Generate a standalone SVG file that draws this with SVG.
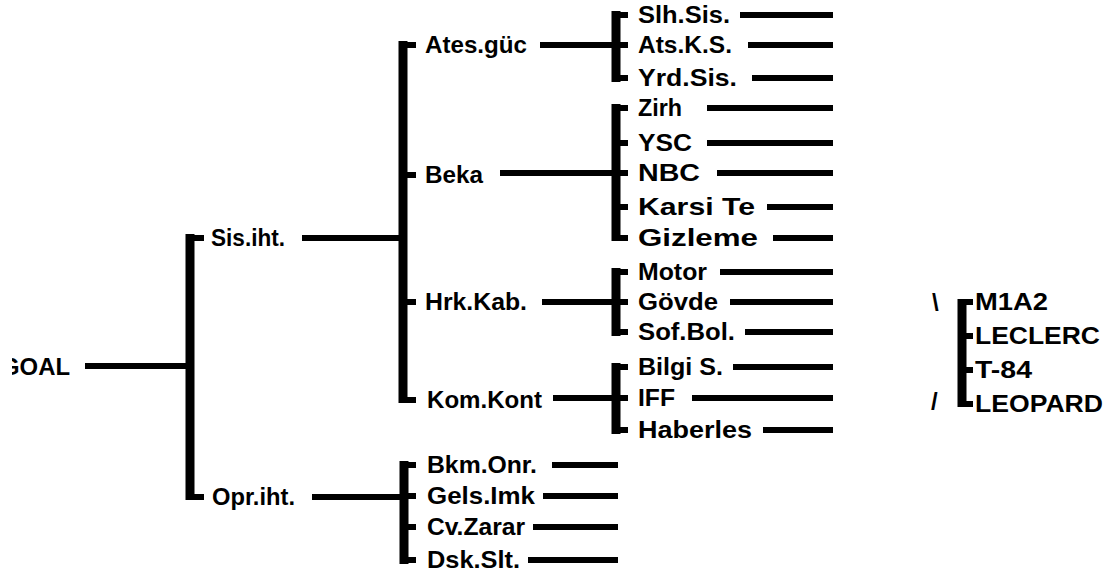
<svg xmlns="http://www.w3.org/2000/svg" width="1106" height="579" viewBox="0 0 1106 579">
  <defs>
    <style>
      .t { font-family: "Liberation Sans", Arial, sans-serif; font-weight: bold; font-size: 24px; fill: #000; }
      .ln { stroke: #000; stroke-width: 6; fill: none; }
      .bar { stroke: #000; stroke-width: 9; fill: none; }
    </style>
    <clipPath id="goalClip">
      <rect x="12" y="340" width="100" height="50"/>
    </clipPath>
  </defs>
  <rect width="1106" height="579" fill="#fff"/>

  <!-- connectors: brackets, ticks and leader lines -->
  <g id="connectors">
    <!-- root -->
    <path class="ln" d="M85 366 H190"/>
    <path class="bar" d="M190 234 V500"/>
    <path class="ln" d="M190 238 H204 M190 497 H204"/>

    <!-- Sis.iht. branch -->
    <path class="ln" d="M302 238 H403"/>
    <path class="bar" d="M403 41 V403"/>
    <path class="ln" d="M403 45 H416 M403 175 H416 M403 302 H416 M403 400 H416"/>

    <!-- Opr.iht. branch -->
    <path class="ln" d="M312 497 H404"/>
    <path class="bar" d="M404 461 V564"/>
    <path class="ln" d="M404 465 H416 M404 496 H416 M404 527 H416 M404 560 H416"/>

    <!-- Ates.güc -->
    <path class="ln" d="M540 45 H616"/>
    <path class="bar" d="M616 11 V82"/>
    <path class="ln" d="M616 15 H628 M616 45 H628 M616 78 H628"/>

    <!-- Beka -->
    <path class="ln" d="M500 173 H616"/>
    <path class="bar" d="M616 104 V241"/>
    <path class="ln" d="M616 108 H628 M616 143 H628 M616 173 H628 M616 207 H628 M616 238 H628"/>

    <!-- Hrk.Kab. -->
    <path class="ln" d="M542 302 H616"/>
    <path class="bar" d="M616 268 V336"/>
    <path class="ln" d="M616 272 H628 M616 302 H628 M616 332 H628"/>

    <!-- Kom.Kont -->
    <path class="ln" d="M553 398 H616"/>
    <path class="bar" d="M616 363 V434"/>
    <path class="ln" d="M616 367 H628 M616 398 H628 M616 430 H628"/>

    <!-- leaf leaders, third level -->
    <path class="ln" d="M740 15 H833 M748 45 H833 M752 78 H833 M707 108 H833 M707 143 H833 M717 173 H833 M767 207 H833 M773 238 H833 M720 272 H833 M730 302 H833 M745 332 H833 M733 367 H833 M692 398 H833 M763 430 H833"/>

    <!-- leaf leaders, Opr.iht. -->
    <path class="ln" d="M552 465 H618 M543 496 H618 M533 527 H618 M528 560 H618"/>

    <!-- alternatives bracket -->
    <path class="bar" d="M962 299 V407"/>
    <path class="ln" d="M962 302 H973 M962 336 H973 M962 370 H973 M962 404 H973"/>
  </g>

  <!-- nodes -->
  <g id="goal"><text class="t" x="1" y="375" textLength="69" lengthAdjust="spacingAndGlyphs" clip-path="url(#goalClip)">GOAL</text></g>

  <g id="sis-iht"><text class="t" x="211" y="246" textLength="74" lengthAdjust="spacingAndGlyphs">Sis.iht.</text></g>
  <g id="opr-iht"><text class="t" x="212" y="505" textLength="83" lengthAdjust="spacingAndGlyphs">Opr.iht.</text></g>

  <g id="ates-guc"><text class="t" x="425" y="53" textLength="102" lengthAdjust="spacingAndGlyphs">Ates.güc</text></g>
  <g id="beka"><text class="t" x="425" y="183" textLength="58" lengthAdjust="spacingAndGlyphs">Beka</text></g>
  <g id="hrk-kab"><text class="t" x="425" y="310" textLength="102" lengthAdjust="spacingAndGlyphs">Hrk.Kab.</text></g>
  <g id="kom-kont"><text class="t" x="427" y="408" textLength="115" lengthAdjust="spacingAndGlyphs">Kom.Kont</text></g>

  <g id="slh-sis"><text class="t" x="638" y="23" textLength="92" lengthAdjust="spacingAndGlyphs">Slh.Sis.</text></g>
  <g id="ats-ks"><text class="t" x="638" y="53" textLength="94" lengthAdjust="spacingAndGlyphs">Ats.K.S.</text></g>
  <g id="yrd-sis"><text class="t" x="638" y="86" textLength="99" lengthAdjust="spacingAndGlyphs">Yrd.Sis.</text></g>
  <g id="zirh"><text class="t" x="638" y="116" textLength="44" lengthAdjust="spacingAndGlyphs">Zirh</text></g>
  <g id="ysc"><text class="t" x="638" y="151" textLength="54" lengthAdjust="spacingAndGlyphs">YSC</text></g>
  <g id="nbc"><text class="t" x="638" y="181" textLength="62" lengthAdjust="spacingAndGlyphs">NBC</text></g>
  <g id="karsi-te"><text class="t" x="638" y="215" textLength="117" lengthAdjust="spacingAndGlyphs">Karsi Te</text></g>
  <g id="gizleme"><text class="t" x="638" y="246" textLength="120" lengthAdjust="spacingAndGlyphs">Gizleme</text></g>
  <g id="motor"><text class="t" x="638" y="280" textLength="69" lengthAdjust="spacingAndGlyphs">Motor</text></g>
  <g id="govde"><text class="t" x="638" y="310" textLength="80" lengthAdjust="spacingAndGlyphs">Gövde</text></g>
  <g id="sof-bol"><text class="t" x="638" y="340" textLength="97" lengthAdjust="spacingAndGlyphs">Sof.Bol.</text></g>
  <g id="bilgi-s"><text class="t" x="638" y="375" textLength="85" lengthAdjust="spacingAndGlyphs">Bilgi S.</text></g>
  <g id="iff"><text class="t" x="638" y="406" textLength="37" lengthAdjust="spacingAndGlyphs">IFF</text></g>
  <g id="haberles"><text class="t" x="638" y="438" textLength="114" lengthAdjust="spacingAndGlyphs">Haberles</text></g>

  <g id="bkm-onr"><text class="t" x="427" y="473" textLength="110" lengthAdjust="spacingAndGlyphs">Bkm.Onr.</text></g>
  <g id="gels-imk"><text class="t" x="427" y="504" textLength="108" lengthAdjust="spacingAndGlyphs">Gels.Imk</text></g>
  <g id="cv-zarar"><text class="t" x="427" y="535" textLength="98" lengthAdjust="spacingAndGlyphs">Cv.Zarar</text></g>
  <g id="dsk-slt"><text class="t" x="427" y="568" textLength="93" lengthAdjust="spacingAndGlyphs">Dsk.Slt.</text></g>

  <g id="alternatives">
    <text class="t" x="932" y="311" font-size="20">\</text>
    <text class="t" x="931" y="410" font-size="20">/</text>
    <text class="t" x="975" y="310" textLength="73" lengthAdjust="spacingAndGlyphs">M1A2</text>
    <text class="t" x="975" y="344" textLength="125" lengthAdjust="spacingAndGlyphs">LECLERC</text>
    <text class="t" x="975" y="378" textLength="57" lengthAdjust="spacingAndGlyphs">T-84</text>
    <text class="t" x="975" y="412" textLength="128" lengthAdjust="spacingAndGlyphs">LEOPARD</text>
  </g>
</svg>
